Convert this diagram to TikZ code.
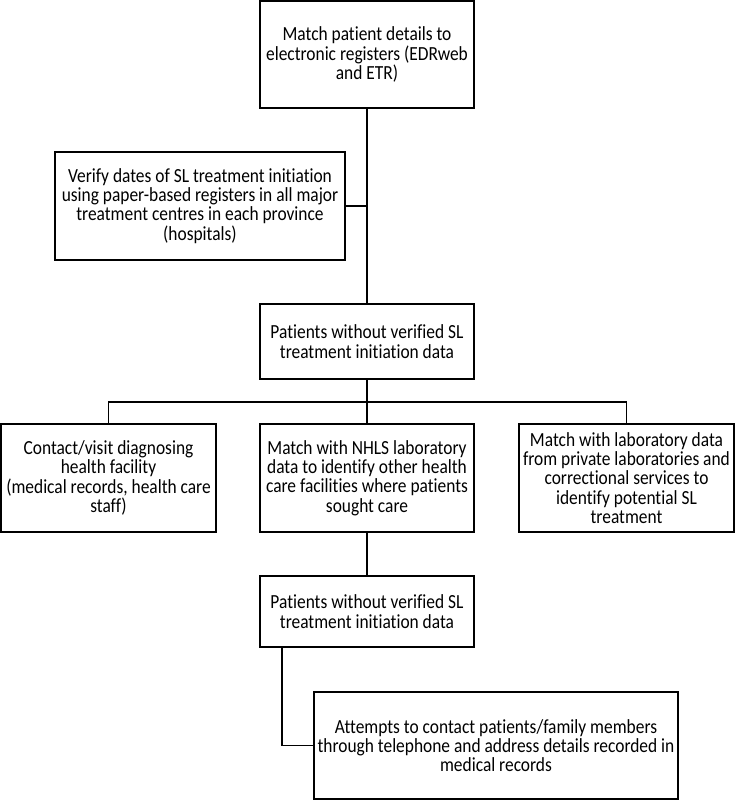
\documentclass[tikz,border=0pt]{standalone}
\usepackage{fontspec}
\setmainfont{Carlito}[FakeStretch=0.87,Ligatures=NoCommon]
\begin{document}
\begin{tikzpicture}[x=1pt,y=-1pt,
  box/.style={draw,line width=1.6pt,align=center,inner sep=0.5pt,font=\fontsize{20}{19.3}\selectfont},
  conn/.style={line width=1.6pt}]
\useasboundingbox (0,0) rectangle (735,800);
\node[box,minimum width=214pt,minimum height=107pt] (a) at (367,54.5) {Match patient details to\\electronic registers (EDRweb\\and ETR)};
\node[box,minimum width=290pt,minimum height=108pt] (b) at (200,206) {Verify dates of SL treatment initiation\\using paper-based registers in all major\\treatment centres in each province\\(hospitals)};
\node[box,minimum width=214pt,minimum height=75pt] (c) at (367,341.5) {Patients without verified SL\\treatment initiation data};
\node[box,minimum width=215pt,minimum height=108pt] (d1) at (108.5,478) {Contact/visit diagnosing\\health facility\\(medical records, health care\\staff)};
\node[box,minimum width=214pt,minimum height=108pt] (d2) at (367,478) {Match with NHLS laboratory\\data to identify other health\\care facilities where patients\\sought care};
\node[box,minimum width=215pt,minimum height=108pt] (d3) at (626.5,478) {Match with laboratory data\\from private laboratories and\\correctional services to\\identify potential SL\\treatment};
\node[box,minimum width=214pt,minimum height=71pt] (e) at (367,611.5) {Patients without verified SL\\treatment initiation data};
\node[box,minimum width=364pt,minimum height=107pt] (f) at (496,745.5) {Attempts to contact patients/family members\\through telephone and address details recorded in\\medical records};
\coordinate (j1) at (367,206);
\coordinate (bar) at (367,402);
\draw[conn] (a.south) -- (c.north);
\draw[conn] (b.east) -- (j1);
\draw[conn] (c.south) -- (bar);
\draw[conn] (d1.north) |- (bar) -| (d3.north);
\draw[conn] (bar) -- (d2.north);
\draw[conn] (d2.south) -- (e.north);
\draw[conn] ([xshift=-85pt]e.south) |- (f.west);
\end{tikzpicture}
\end{document}
